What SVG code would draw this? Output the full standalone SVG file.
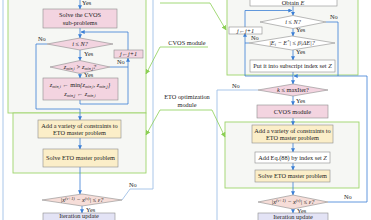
<svg xmlns="http://www.w3.org/2000/svg" width="371" height="220" viewBox="0 0 371 220">
<defs>
<marker id="ab" viewBox="0 0 6 6" refX="5.5" refY="3" markerWidth="4" markerHeight="4" orient="auto" markerUnits="userSpaceOnUse"><path d="M0,0 L6,3 L0,6 z" fill="#3b7fd6"/></marker>
<marker id="ag" viewBox="0 0 6 6" refX="5.5" refY="3" markerWidth="5" markerHeight="5" orient="auto" markerUnits="userSpaceOnUse"><path d="M0,0 L6,3 L0,6 z" fill="#8ccf55"/></marker>
<style>
.box{stroke:#8c8c8c;stroke-width:0.6}
.pink{fill:#f3d4e0}
.yel{fill:#fbeec8}
.lav{fill:#e3e3f5}
.wht{fill:#ffffff}
.dia{fill:#f6ddd8}
.mod{fill:#f6f7f4;stroke:#9ed46b;stroke-width:0.9}
.flow{fill:none;stroke:#3b7fd6;stroke-width:0.8}
.loop{fill:none;stroke:#9fc0e6;stroke-width:0.9}
.lead{fill:none;stroke:#8ccf55;stroke-width:0.8}
text{font-family:"Liberation Serif","Times New Roman",serif;font-size:6.3px;fill:#222}
.c{text-anchor:middle}
.i{font-style:italic}
.s{font-size:4.2px}
</style>
</defs>

<g id="modules">
<rect id="cvos-left" class="mod" x="8" y="-5" width="138" height="118"/>
<rect id="eto-left" class="mod" x="13" y="113" width="133" height="60"/>
<rect id="cvos-right" class="mod" x="227" y="-5" width="131" height="80"/>
<rect id="eto-right" class="mod" x="225" y="122" width="134" height="66"/>
</g>

<g id="connectors">
<polyline class="loop" points="3,-5 3,225"/>
<polyline class="loop" points="122,200 130,189 153,189 153,-5"/>
<polyline class="loop" points="258,90 217,90 217,225"/>
<line class="flow" x1="80" y1="-2" x2="80" y2="9" marker-end="url(#ab)"/>
<line class="flow" x1="80" y1="28" x2="80" y2="38" marker-end="url(#ab)"/>
<polyline class="flow" points="128,50 128,32 81,32" marker-end="url(#ab)"/>
<line class="flow" x1="80" y1="50" x2="80" y2="60.5" marker-end="url(#ab)"/>
<line class="flow" x1="80" y1="73.5" x2="80" y2="78" marker-end="url(#ab)"/>
<polyline class="flow" points="110,67 128,67"/>
<polyline class="flow" points="80,100 80,104 128,104 128,58" marker-end="url(#ab)"/>
<polyline class="flow" points="47,44 36,44 36,109 80,109 80,120" marker-end="url(#ab)"/>
<line class="flow" x1="80" y1="138" x2="80" y2="149" marker-end="url(#ab)"/>
<line class="flow" x1="80" y1="167" x2="80" y2="194" marker-end="url(#ab)"/>
<line class="flow" x1="82" y1="206" x2="82" y2="213" marker-end="url(#ab)"/>
<line class="flow" x1="293" y1="6" x2="293" y2="15.5" marker-end="url(#ab)"/>
<polyline class="flow" points="245,27 245,10.5 292,10.5" marker-end="url(#ab)"/>
<polyline class="flow" points="326,22 338,22 338,76"/>
<line class="flow" x1="293" y1="28.5" x2="293" y2="36" marker-end="url(#ab)"/>
<polyline class="flow" points="249,43 245,43"/>
<line class="flow" x1="293" y1="50" x2="293" y2="60" marker-end="url(#ab)"/>
<polyline class="flow" points="293,72 293,76 245,76 245,33" marker-end="url(#ab)"/>
<polyline class="flow" points="328,202 367,202 367,76 294,76" marker-end="url(#ab)"/>
<line class="flow" x1="293" y1="76" x2="293" y2="84" marker-end="url(#ab)"/>
<line class="flow" x1="293" y1="96" x2="293" y2="105" marker-end="url(#ab)"/>
<line class="flow" x1="293" y1="118" x2="293" y2="125" marker-end="url(#ab)"/>
<line class="flow" x1="293" y1="143" x2="293" y2="152" marker-end="url(#ab)"/>
<line class="flow" x1="293" y1="163" x2="293" y2="170" marker-end="url(#ab)"/>
<line class="flow" x1="293" y1="182" x2="293" y2="195" marker-end="url(#ab)"/>
<line class="flow" x1="293" y1="209" x2="293" y2="213" marker-end="url(#ab)"/>
<polyline class="lead" points="160,3 210,3 226,30" marker-end="url(#ag)"/>
<polyline class="lead" points="208,47 160,47 146,74" marker-end="url(#ag)"/>
<polyline class="lead" points="160,110 146,135" marker-end="url(#ag)"/>
<polyline class="lead" points="160,110 212,110 225,137" marker-end="url(#ag)"/>
</g>

<g id="labels">
<text x="82" y="5">Yes</text>
<text x="84" y="56">Yes</text>
<text x="84" y="76.5">Yes</text>
<text x="86" y="212">Yes</text>
<text x="38" y="41">No</text>
<text x="117" y="64">No</text>
<text x="129" y="187">No</text>
<text x="296" y="32">Yes</text>
<text x="296" y="54">Yes</text>
<text x="296" y="103">Yes</text>
<text x="297" y="213">Yes</text>
<text x="330" y="18.5">No</text>
<text x="251" y="40">No</text>
<text x="232" y="88">No</text>
<text x="344" y="199">No</text>
<text class="c" x="187" y="44.5">CVOS module</text>
<text class="c" x="187" y="99">ETO optimization</text>
<text class="c" x="187" y="107">module</text>
</g>

<g id="n-solve-cvos">
<rect class="box pink" x="43" y="9" width="74" height="19"/>
<text class="c" x="80" y="17">Solve the CVOS</text>
<text class="c" x="80" y="25">sub-problems</text>
</g>
<g id="n-left-iN">
<polygon class="box pink" points="80,38 113,44 80,50 47,44"/>
<text class="c i" x="80" y="46">i ≤ N?</text>
</g>
<g id="n-left-jinc">
<rect class="box pink" x="114" y="50" width="29" height="8"/>
<text class="c i" x="128.5" y="56.2">j←j+1</text>
</g>
<g id="n-left-zcmp">
<polygon class="box pink" points="80,60.5 110,67 80,73.5 50,67"/>
<text class="c i" x="80" y="69">z<tspan class="s" dy="1">min,i</tspan><tspan dy="-1"> &gt; z</tspan><tspan class="s" dy="1">min,j</tspan><tspan dy="-1">?</tspan></text>
</g>
<g id="n-left-zupd">
<rect class="box pink" x="43" y="78" width="75" height="22"/>
<text class="c i" x="80" y="87">z<tspan class="s" dy="1">min,i</tspan><tspan dy="-1"> ← </tspan><tspan font-style="normal">min</tspan><tspan>{z</tspan><tspan class="s" dy="1">min,i</tspan><tspan dy="-1">, z</tspan><tspan class="s" dy="1">min,j</tspan><tspan dy="-1">}</tspan></text>
<text class="c i" x="80" y="96">z<tspan class="s" dy="1">min,j</tspan><tspan dy="-1"> ← z</tspan><tspan class="s" dy="1">min,i</tspan></text>
</g>
<g id="n-left-add">
<rect class="box yel" x="38" y="120" width="83" height="18"/>
<text class="c" x="79.5" y="127.5">Add a variety of constraints to</text>
<text class="c" x="79.5" y="135">ETO master problem</text>
</g>
<g id="n-left-solve-eto">
<rect class="box yel" x="43" y="149" width="75" height="18"/>
<text class="c" x="80.5" y="160">Solve ETO master problem</text>
</g>
<g id="n-left-conv">
<polygon class="box dia" points="82,194 122,200 82,206 42,200"/>
<text class="c i" x="82" y="202">|x<tspan class="s" dy="-2">(v+1)</tspan><tspan dy="2"> − x</tspan><tspan class="s" dy="-2">(v)</tspan><tspan dy="2">| ≤ ε?</tspan></text>
</g>
<g id="n-left-iter">
<rect class="box lav" x="43" y="213" width="72" height="14"/>
<text class="c" x="79" y="218.4">Iteration update</text>
</g>

<g id="n-obtain-e">
<rect class="box wht" x="250" y="-5" width="87" height="11"/>
<text class="c" x="293" y="5">Obtain <tspan class="i">E</tspan></text>
</g>
<g id="n-right-iN">
<polygon class="box wht" points="293,15.5 326,22 293,28.5 260,22"/>
<text class="c i" x="293" y="24">i ≤ N?</text>
</g>
<g id="n-right-jinc">
<rect class="box wht" x="229" y="27" width="33" height="7"/>
<text class="c i" x="245.5" y="32.5">j←j+1</text>
</g>
<g id="n-right-ecmp">
<polygon class="box wht" points="292,36 335,43 292,50 249,43"/>
<text class="c i" x="292" y="45">|E<tspan class="s" dy="1">i</tspan><tspan dy="-1"> − E</tspan><tspan class="s" dy="-2">*</tspan><tspan dy="2">| ≤ β|ΔE|?</tspan></text>
</g>
<g id="n-right-put">
<rect class="box wht" x="250" y="60" width="85" height="12"/>
<text class="c" x="292.5" y="68">Put it into subscript index set <tspan class="i">Z</tspan></text>
</g>
<g id="n-right-k">
<polygon class="box pink" points="293,84 328,90 293,96 258,90"/>
<text class="c i" x="293" y="92">k<tspan font-style="normal"> ≤ maxIter?</tspan></text>
</g>
<g id="n-right-cvos">
<rect class="box pink" x="257" y="105" width="71" height="13"/>
<text class="c" x="292.5" y="113.5">CVOS module</text>
</g>
<g id="n-right-add">
<rect class="box yel" x="252" y="125" width="81" height="18"/>
<text class="c" x="292.5" y="132.5">Add a variety of constraints to</text>
<text class="c" x="292.5" y="140">ETO master problem</text>
</g>
<g id="n-right-eq">
<rect class="box wht" x="255" y="152" width="75" height="11"/>
<text class="c" x="292.5" y="159.5">Add Eq.(88) by index set <tspan class="i">Z</tspan></text>
</g>
<g id="n-right-solve-eto">
<rect class="box yel" x="255" y="170" width="75" height="12"/>
<text class="c" x="292.5" y="178.3">Solve ETO master problem</text>
</g>
<g id="n-right-conv">
<polygon class="box dia" points="293,195 328,202 293,209 258,202"/>
<text class="c i" x="293" y="204">|x<tspan class="s" dy="-2">(v+1)</tspan><tspan dy="2"> − x</tspan><tspan class="s" dy="-2">(v)</tspan><tspan dy="2">| ≤ ε?</tspan></text>
</g>
<g id="n-right-iter">
<rect class="box lav" x="258" y="213" width="70" height="12"/>
<text class="c" x="293" y="218.6">Iteration update</text>
</g>
</svg>
